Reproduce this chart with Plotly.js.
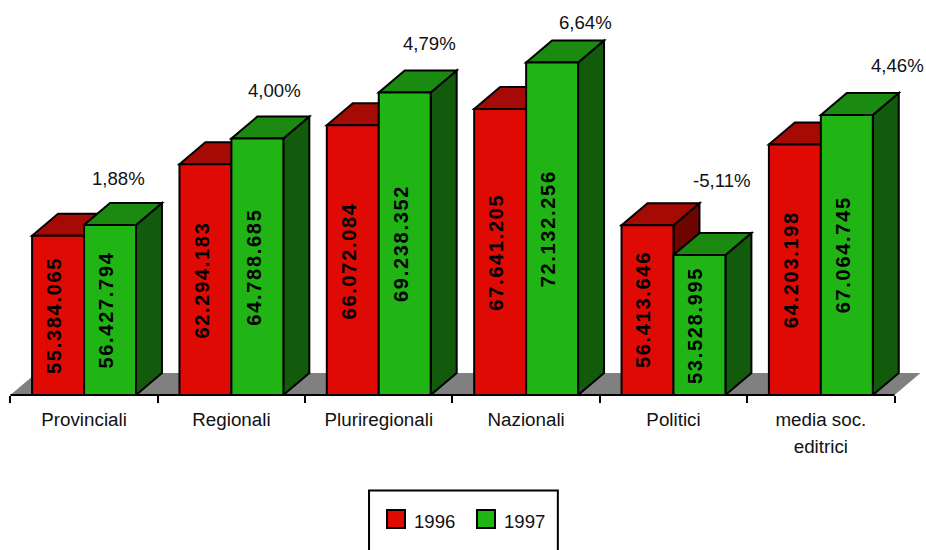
<!DOCTYPE html>
<html><head><meta charset="utf-8">
<script src="https://cdn.plot.ly/plotly-3.0.1.min.js"></script>
<style>
html,body{margin:0;padding:0;background:#fff;overflow:hidden}
.legendpoints path{transform:translate(22px,-2px) scale(1.5);vector-effect:non-scaling-stroke}
</style></head><body>
<div id="chart" style="width:926px;height:550px"></div>
<script>
const categories = ['Provinciali','Regionali','Pluriregionali','Nazionali','Politici','media soc.<br>editrici'];
const values1996 = [55384065,62294183,66072084,67641205,56413646,64203198];
const values1997 = [56427794,64788685,69238352,72132256,53528995,67064745];
const percentLabels = ['1,88%','4,00%','4,79%','6,64%','-5,11%','4,46%'];
const percentPixels = [[118,179],[274,91],[430,44],[586,23],[722,181],[898,66]];

const FONT = 'Liberation Sans, Arial, sans-serif';
const pxPerCat = 147.5, pxPerVal = 10.36e-6, baseVal = 40e6, x0Px = 10, basePx = 395.5, topPx = 10;
const xMin = -0.05, xMax = 6.2;
const depthX = 26/pxPerCat, depthY = 22/pxPerVal;
const barW = 52/pxPerCat;
const plotH = basePx - topPx;
const yMax = baseVal + plotH/pxPerVal;
const fy = Y => (basePx - Y)/plotH;
const fx = X => (X - (x0Px + xMin*pxPerCat))/((xMax-xMin)*pxPerCat);
const fmt = v => String(v).replace(/\B(?=(\d{3})+$)/g,'.');

const C = {r:'#E00A05', rt:'#A60A05', rs:'#6E0500', g:'#20B415', gt:'#1A8A10', gs:'#125A0C'};
const xs = categories.map((_,i)=>i+0.5);
const poly = (pts,fill,line) => ({type:'path',xref:'x',yref:'y',layer:'below',
  path:'M'+pts.map(p=>p[0]+','+p[1]).join('L')+'Z',fillcolor:fill,line:line===0?{width:0}:{color:'#000',width:2}});

const shapes = [];
shapes.push(poly([[0,baseVal],[6,baseVal],[6+depthX,baseVal+depthY],[depthX,baseVal+depthY]],'#808080',0));
categories.forEach((_,i)=>{
  [[values1996[i],i+0.5-barW,C.rt,C.rs],[values1997[i],i+0.5,C.gt,C.gs]].forEach(([v,l,top,side])=>{
    const r=l+barW;
    shapes.push(poly([[r,baseVal],[r+depthX,baseVal+depthY],[r+depthX,v+depthY],[r,v]],side));
    shapes.push(poly([[l,v],[r,v],[r+depthX,v+depthY],[l+depthX,v+depthY]],top));
  });
});
shapes.push({type:'line',xref:'x',yref:'paper',x0:0,x1:6,y0:0,y1:0,line:{color:'#000',width:2},layer:'above'});
shapes.push({type:'rect',xref:'paper',yref:'paper',x0:fx(369),x1:fx(558),y0:fy(570),y1:fy(491),line:{color:'#000',width:2},fillcolor:'rgba(0,0,0,0)',layer:'above'});

const annotations = [];
categories.forEach((_,i)=>{
  [[values1996[i],i+0.5-barW/2],[values1997[i],i+0.5+barW/2]].forEach(([v,x])=>{
    annotations.push({x:x,y:(v+baseVal)/2,xref:'x',yref:'y',text:fmt(v),textangle:-90,showarrow:false,xshift:-4,
      font:{family:FONT,size:20,color:'#000',weight:'bold'}});
  });
});
const nBarLabels = annotations.length;
percentLabels.forEach((t,i)=>{
  annotations.push({x:fx(percentPixels[i][0]),y:fy(percentPixels[i][1]),xref:'paper',yref:'paper',xanchor:'center',yanchor:'middle',
    text:t,showarrow:false,font:{family:FONT,size:18.6,color:'#111'}});
});

const barTrace = (name,y,color)=>({type:'bar',name:name,x:xs,y:y,width:barW,
  marker:{color:color,line:{color:'#000',width:2}},hoverinfo:'x+y'});
const data = [barTrace('1996',values1996,C.r),barTrace('1997',values1997,C.g)];
data[0].offset=-barW; data[1].offset=0;

const layout = {
  width:926,height:550,paper_bgcolor:'#fff',plot_bgcolor:'rgba(0,0,0,0)',
  margin:{l:x0Px+xMin*pxPerCat,r:926-(x0Px+xMax*pxPerCat),t:topPx,b:550-basePx,autoexpand:false,pad:0},
  font:{family:FONT,size:18.6,color:'#111'},
  barmode:'overlay',
  showlegend:true,
  legend:{orientation:'h',x:fx(374),xanchor:'left',y:fy(503),yanchor:'top',bgcolor:'rgba(0,0,0,0)',borderwidth:0,
    entrywidth:45,entrywidthmode:'pixels',font:{family:FONT,size:18.6,color:'#111'}},
  xaxis:{range:[xMin,xMax],showgrid:false,zeroline:false,showline:false,
    tickmode:'array',tickvals:xs,ticktext:categories,ticks:'',ticklen:0,ticklabelstandoff:11,tickangle:0,
    tickfont:{family:FONT,size:18.8,color:'#111'},
    minor:{tickmode:'array',tickvals:[0,1,2,3,4,5,6],ticks:'outside',ticklen:7,tickwidth:2,tickcolor:'#000',showgrid:false}},
  yaxis:{range:[baseVal,yMax],visible:false,showgrid:false,zeroline:false},
  shapes:shapes,annotations:annotations
};
Plotly.newPlot('chart',data,layout,{displayModeBar:false,staticPlot:true}).then(()=>{
  document.querySelectorAll('g.annotation').forEach(g=>{
    if(+g.getAttribute('data-index')<nBarLabels){
      const t=g.querySelector('text'); if(t) t.style.letterSpacing='1.7px';
    }
  });
  document.querySelectorAll('.xtick text tspan.line').forEach(s=>{
    if(s.textContent==='editrici') s.setAttribute('y',+s.getAttribute('y')+3);
  });
});
</script></body></html>
